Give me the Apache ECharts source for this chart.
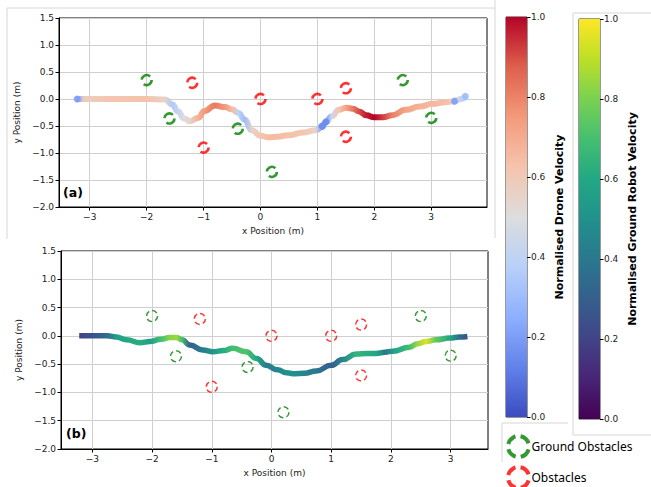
<!DOCTYPE html>
<html><head><meta charset="utf-8">
<script src="https://cdn.jsdelivr.net/npm/echarts@6/dist/echarts.min.js"></script>
<style>html,body{margin:0;padding:0;background:#fff}#c{width:651px;height:487px}</style>
</head><body><div id="c"></div>
<script>
// ---- data ----
const droneX = [-3.24,-3.1,-2.6,-2.0,-1.68,-1.55,-1.45,-1.34,-1.24,-1.1,-0.98,-0.8,-0.62,-0.5,-0.39,-0.28,-0.15,0.0,0.14,0.3,0.49,0.75,0.97,1.08,1.15,1.25,1.38,1.5,1.62,1.73,1.86,2.0,2.15,2.32,2.55,2.8,3.02,3.25,3.41,3.52,3.61];
const droneY = [0,0,0,0,-0.01,-0.1,-0.23,-0.36,-0.41,-0.35,-0.22,-0.12,-0.15,-0.19,-0.26,-0.38,-0.58,-0.68,-0.71,-0.7,-0.67,-0.62,-0.58,-0.52,-0.43,-0.32,-0.2,-0.16,-0.18,-0.23,-0.3,-0.34,-0.34,-0.3,-0.2,-0.14,-0.09,-0.06,-0.04,0.0,0.05];
const droneV = [0.2,0.58,0.62,0.63,0.55,0.35,0.42,0.5,0.55,0.68,0.75,0.82,0.75,0.65,0.4,0.3,0.55,0.62,0.65,0.65,0.63,0.62,0.55,0.2,0.2,0.45,0.62,0.72,0.82,0.9,0.97,1.0,0.92,0.8,0.72,0.68,0.66,0.64,0.55,0.4,0.35];
const droneBlobs = [[-3.22,0.0,0.2],[1.08,-0.5,0.15],[1.15,-0.42,0.15],[3.41,-0.04,0.2],[3.6,0.05,0.3]];

const groundX = [-3.22,-3.0,-2.75,-2.6,-2.43,-2.2,-2.04,-1.85,-1.7,-1.59,-1.5,-1.37,-1.15,-0.98,-0.8,-0.65,-0.43,-0.25,-0.09,0.1,0.25,0.36,0.55,0.75,1.0,1.19,1.42,1.6,1.75,1.9,2.03,2.31,2.45,2.59,2.75,2.98,3.15,3.28];
const groundY = [0,0,0,-0.02,-0.07,-0.12,-0.1,-0.06,-0.03,-0.03,-0.07,-0.16,-0.25,-0.28,-0.26,-0.22,-0.28,-0.4,-0.52,-0.6,-0.65,-0.67,-0.66,-0.62,-0.52,-0.42,-0.32,-0.31,-0.31,-0.29,-0.27,-0.2,-0.14,-0.1,-0.07,-0.04,-0.02,-0.01];
const groundV = [0.2,0.25,0.35,0.55,0.6,0.62,0.55,0.7,0.82,0.85,0.7,0.3,0.42,0.52,0.62,0.7,0.72,0.6,0.42,0.45,0.5,0.5,0.45,0.4,0.3,0.45,0.65,0.62,0.6,0.4,0.55,0.7,0.85,0.95,0.75,0.6,0.35,0.25];

const groundObstacles = [[-2.0,0.35],[-1.6,-0.36],[-0.4,-0.55],[0.2,-1.35],[2.5,0.35],[3.0,-0.35]];
const obstacles = [[-1.2,0.3],[-1.0,-0.9],[0.0,0.0],[1.0,0.0],[1.5,0.2],[1.5,-0.7]];

const xTicks = [-3,-2,-1,0,1,2,3];
const colorbarRange = [0,1];

const coolwarm = ['#3b4cc0','#6282ea','#8db0fe','#b8d0f9','#dddddd','#f5c4ad','#f49a7b','#de604d','#b40426'];
const viridis = ['#440154','#482475','#414487','#355f8d','#2a788e','#21918c','#22a884','#44bf70','#7ad151','#bddf26','#fde725'];

// ---- helpers ----
function hex(c){return [parseInt(c.slice(1,3),16),parseInt(c.slice(3,5),16),parseInt(c.slice(5,7),16)];}
function cmap(list,t){
  t=Math.max(0,Math.min(1,t));const s=t*(list.length-1);const i=Math.min(Math.floor(s),list.length-2);const f=s-i;
  const a=hex(list[i]),b=hex(list[i+1]);
  return 'rgb('+a.map((v,k)=>Math.round(v+(b[k]-v)*f)).join(',')+')';
}
function stops(list){return list.map((c,i)=>({offset:i/(list.length-1),color:c}));}
const minus = v => String(v).replace('-','\u2212');
const FONT = 'DejaVu Sans';

function xAxis(gi,min,max){
  return {type:'value',gridIndex:gi,min:min,max:max,
    name:'x Position (m)',nameLocation:'middle',nameGap:19,nameTextStyle:{fontSize:9,color:'#222',fontFamily:FONT},
    axisLine:{show:true,onZero:false,lineStyle:{color:'#000',width:1}},
    axisTick:{show:true,customValues:xTicks,length:3.5,lineStyle:{color:'#000'}},
    axisLabel:{customValues:xTicks,fontSize:9,color:'#222',margin:5,formatter:v=>minus(v)},
    splitLine:{show:true,lineStyle:{color:'#cfcfcf',width:1}}};
}
function yAxis(gi){
  return {type:'value',gridIndex:gi,min:-2,max:1.5,interval:0.5,
    name:'y Position (m)',nameLocation:'middle',nameGap:33,nameTextStyle:{fontSize:9,color:'#222',fontFamily:FONT},
    axisLine:{show:true,onZero:false,lineStyle:{color:'#000',width:1}},
    axisTick:{show:true,length:3.5,lineStyle:{color:'#000'}},
    axisLabel:{fontSize:9,color:'#222',margin:5,formatter:v=>minus(v.toFixed(1))},
    splitLine:{show:true,lineStyle:{color:'#cfcfcf',width:1}}};
}
function cbAxis(gi,name){
  return {type:'value',gridIndex:gi,position:'right',min:colorbarRange[0],max:colorbarRange[1],interval:0.2,
    name:name,nameLocation:'middle',nameRotate:90,nameGap:27,
    nameTextStyle:{fontSize:11,fontWeight:'bold',color:'#000',fontFamily:FONT},
    axisLine:{show:false},axisTick:{show:true,length:3.5,lineStyle:{color:'#000'}},
    axisLabel:{fontSize:9,color:'#222',margin:4,formatter:v=>v.toFixed(1)},splitLine:{show:false}};
}
const grayLine=(x1,y1,x2,y2)=>({type:'line',shape:{x1,y1,x2,y2},style:{stroke:'#d6d6d6',lineWidth:1},silent:true});
const legendBase = (top,name,color)=>({orient:'vertical',left:506,top:top,padding:0,itemWidth:24,itemHeight:21,
    textStyle:{fontSize:12,color:'#000',fontFamily:'Noto Sans',padding:[0,0,0,-4]},
    data:[{name:name,icon:'circle',itemStyle:{color:'transparent',borderColor:color,borderWidth:4,borderType:[11,5],borderDashOffset:-3}}]});

const chart = echarts.init(document.getElementById('c'),null,{renderer:'svg'});
const option = {
  animation:false,
  backgroundColor:'#fff',
  textStyle:{fontFamily:FONT},
  grid:[
    {left:59,top:18,width:428,height:189,show:true,borderColor:'#000',borderWidth:1,backgroundColor:'transparent'},
    {left:61,top:251,width:427,height:198,show:true,borderColor:'#000',borderWidth:1,backgroundColor:'transparent'},
    {left:506,top:17,width:21,height:400,show:true,borderColor:'#333',borderWidth:1},
    {left:579,top:19,width:21,height:400,show:true,borderColor:'#333',borderWidth:1}
  ],
  xAxis:[xAxis(0,-3.54,3.98),xAxis(1,-3.525,3.625),
    {type:'category',gridIndex:2,data:[''],show:false},
    {type:'category',gridIndex:3,data:[''],show:false}],
  yAxis:[yAxis(0),yAxis(1),cbAxis(2,'Normalised Drone Velocity'),cbAxis(3,'Normalised Ground Robot Velocity')],
  legend:[legendBase(434,'Ground Obstacles','#008000'),legendBase(465,'Obstacles','#ff0000')],
  graphic:[
    grayLine(7,8,495,8),grayLine(7,8,7,239),grayLine(495,0,495,238),
    grayLine(573,13,651,13),grayLine(573,13,573,435),grayLine(573,435,651,435),
    grayLine(502,423,568,423),grayLine(502,423,502,462),
    {type:'text',left:63,top:186,style:{text:'(a)',font:'bold 12.5px "DejaVu Sans"',fill:'#000'}},
    {type:'text',left:66,top:427,style:{text:'(b)',font:'bold 12.5px "DejaVu Sans"',fill:'#000'}}
  ],
  series:[
    {id:'drone',type:'line',xAxisIndex:0,yAxisIndex:0,data:droneX.map((x,i)=>[x,droneY[i],droneV[i]]),
      smooth:0.5,smoothMonotone:'x',symbol:'none',showSymbol:false,lineStyle:{width:6,color:'#f5c4ad'},z:3},
    {type:'scatter',xAxisIndex:0,yAxisIndex:0,data:droneBlobs,symbolSize:7,
      itemStyle:{color:p=>cmap(coolwarm,p.data[2]),opacity:0.9},z:4},
    {id:'ground',type:'line',xAxisIndex:1,yAxisIndex:1,data:groundX.map((x,i)=>[x,groundY[i],groundV[i]]),
      smooth:0.5,smoothMonotone:'x',symbol:'none',showSymbol:false,lineStyle:{width:5.5,color:'#21918c'},z:3},
    {name:'Ground Obstacles',type:'scatter',xAxisIndex:0,yAxisIndex:0,data:groundObstacles,symbol:'circle',symbolSize:10,
      itemStyle:{color:'transparent',borderColor:'#008000',borderWidth:2.6,borderType:[11,4.7],borderDashOffset:-2},z:5},
    {name:'Obstacles',type:'scatter',xAxisIndex:0,yAxisIndex:0,data:obstacles,symbol:'circle',symbolSize:10,
      itemStyle:{color:'transparent',borderColor:'#ff0000',borderWidth:2.6,borderType:[11,4.7],borderDashOffset:-2},z:5},
    {name:'Ground Obstacles',type:'scatter',xAxisIndex:1,yAxisIndex:1,data:groundObstacles,symbol:'circle',symbolSize:11,
      itemStyle:{color:'transparent',borderColor:'#008000',borderWidth:1.5,borderType:[5.4,3.2]},z:5},
    {name:'Obstacles',type:'scatter',xAxisIndex:1,yAxisIndex:1,data:obstacles,symbol:'circle',symbolSize:11,
      itemStyle:{color:'transparent',borderColor:'#ff0000',borderWidth:1.5,borderType:[5.4,3.2]},z:5},
    {type:'bar',xAxisIndex:2,yAxisIndex:2,data:[colorbarRange[1]],barWidth:'100%',silent:true,
      itemStyle:{color:{type:'linear',x:0,y:1,x2:0,y2:0,colorStops:stops(coolwarm)}}},
    {type:'bar',xAxisIndex:3,yAxisIndex:3,data:[colorbarRange[1]],barWidth:'100%',silent:true,
      itemStyle:{color:{type:'linear',x:0,y:1,x2:0,y2:0,colorStops:stops(viridis)}}}
  ]
};
chart.setOption(option);

function grad(gi,xs,ys,vs,cm){
  const px = xs.map((x,i)=>chart.convertToPixel({gridIndex:gi},[x,ys[i]])[0]);
  const p0=px[0], p1=px[px.length-1];
  return {type:'linear',x:p0,y:0,x2:p1,y2:0,global:true,
    colorStops:px.map((p,i)=>({offset:(p-p0)/(p1-p0),color:cmap(cm,vs[i])}))};
}
chart.setOption({series:[
  {id:'drone',lineStyle:{color:grad(0,droneX,droneY,droneV,coolwarm)}},
  {id:'ground',lineStyle:{color:grad(1,groundX,groundY,groundV,viridis)}}
]});
</script></body></html>
